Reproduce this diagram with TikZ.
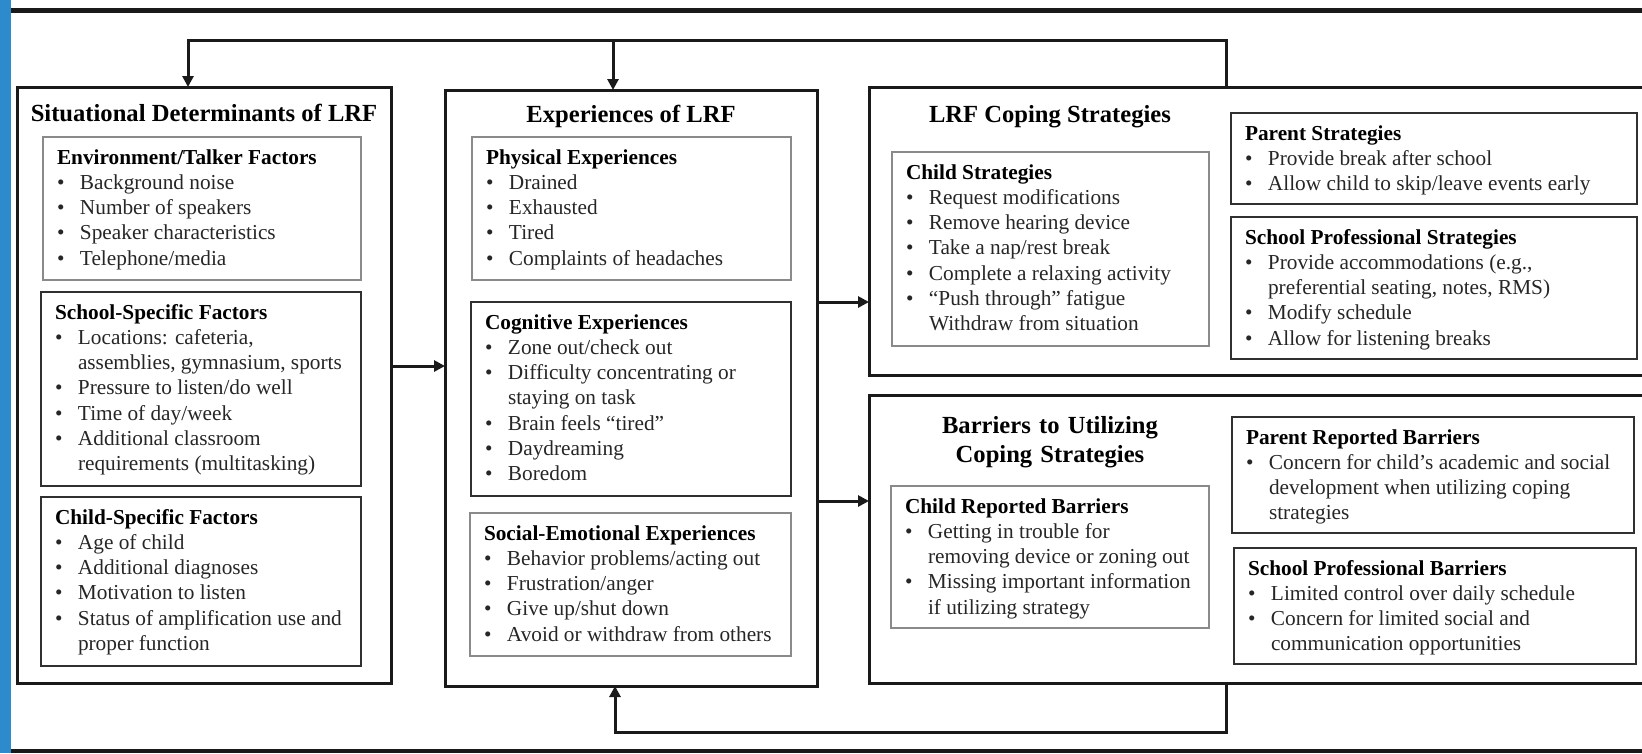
\documentclass[tikz,border=0pt]{standalone}
\usepackage{fontspec}
\setmainfont{Liberation Serif}
\usetikzlibrary{arrows.meta}
\definecolor{barblue}{HTML}{2D8BCB}
\definecolor{ink}{HTML}{1A1A1A}
\definecolor{lightedge}{HTML}{8A8A8A}
\definecolor{darkedge}{HTML}{303030}
\definecolor{bodytext}{HTML}{262626}
\newcommand\bul{\makebox[23pt][l]{•}}
\newcommand\cnt{\hspace*{23pt}}
\newcommand\hd[1]{\rule{0pt}{27pt}\textcolor{black}{\bfseries #1}}
\newcommand\boxtext[3]{\parbox[c][#1][t]{#2}{\raggedright\leftskip=14pt\rightskip=-60pt plus 1fil\relax\fontsize{21.3}{25.3}\selectfont #3}}
\newcommand\ibox[7]{\node[inbox, draw=#1] (#2) at (#3,#4) {\boxtext{#6pt}{#5pt}{#7}};}
\begin{document}
\begin{tikzpicture}[x=1pt,y=-1pt,
  outerbox/.style={draw=ink, line width=3pt, inner sep=0pt, outer sep=0pt, anchor=north west},
  inbox/.style={line width=1.6pt, inner sep=0pt, outer sep=0pt, anchor=north west, text=bodytext},
  boxtitle/.style={inner sep=0pt, font=\fontsize{24.6}{29}\selectfont\bfseries, text=black},
  conn/.style={draw=ink, line width=3pt},
  arr/.style={conn, -{Triangle[length=11pt,width=11pt]}}]
\useasboundingbox (0,0) rectangle (1642,753);
% frame decorations
\fill[barblue] (0,0) rectangle (11,753);
\fill[ink] (11,7.5) rectangle (1642,12.5);
\fill[ink] (11,749) rectangle (1642,753);

% outer boxes
\node[outerbox, minimum width=374pt, minimum height=596pt] (sit) at (17,87) {};
\node[outerbox, minimum width=372pt, minimum height=596pt] (exp) at (445,90) {};
\node[outerbox, minimum width=785pt, minimum height=288pt] (cope) at (869,87) {};
\node[outerbox, minimum width=785pt, minimum height=288pt] (barr) at (869,395) {};

% titles
\node[boxtitle, anchor=base] (sitT) at (204,121) {Situational Determinants of LRF};
\node[boxtitle, anchor=base] (expT) at (631,122) {Experiences of LRF};
\node[boxtitle, anchor=base] (copeT) at (1050,122) {LRF Coping Strategies};
\node[boxtitle, anchor=base, text width=320pt, align=center] (barrT) at (1050,433) {Barriers to Utilizing\\Coping Strategies};

% situational determinants
\ibox{lightedge}{env}{43}{137}{318}{143}{\hd{Environment/Talker Factors}\\
\bul Background noise\\
\bul Number of speakers\\
\bul Speaker characteristics\\
\bul Telephone/media}
\ibox{darkedge}{school}{41}{292}{320}{194}{\hd{School-Specific Factors}\\
\bul Locations: cafeteria,\\
\cnt assemblies, gymnasium, sports\\
\bul Pressure to listen/do well\\
\bul Time of day/week\\
\bul Additional classroom\\
\cnt requirements (multitasking)}
\ibox{darkedge}{childsp}{41}{497}{320}{169}{\hd{Child-Specific Factors}\\
\bul Age of child\\
\bul Additional diagnoses\\
\bul Motivation to listen\\
\bul Status of amplification use and\\
\cnt proper function}

% experiences
\ibox{lightedge}{phys}{472}{137}{319}{143}{\hd{Physical Experiences}\\
\bul Drained\\
\bul Exhausted\\
\bul Tired\\
\bul Complaints of headaches}
\ibox{darkedge}{cog}{471}{302}{320}{194}{\hd{Cognitive Experiences}\\
\bul Zone out/check out\\
\bul Difficulty concentrating or\\
\cnt staying on task\\
\bul Brain feels “tired”\\
\bul Daydreaming\\
\bul Boredom}
\ibox{lightedge}{social}{470}{513}{321}{143}{\hd{Social-Emotional Experiences}\\
\bul Behavior problems/acting out\\
\bul Frustration/anger\\
\bul Give up/shut down\\
\bul Avoid or withdraw from others}

% coping strategies
\ibox{lightedge}{childstr}{892}{152}{317}{194}{\hd{Child Strategies}\\
\bul Request modifications\\
\bul Remove hearing device\\
\bul Take a nap/rest break\\
\bul Complete a relaxing activity\\
\bul “Push through” fatigue\\
\cnt Withdraw from situation}
\ibox{darkedge}{parentstr}{1231}{113}{406}{91}{\hd{Parent Strategies}\\
\bul Provide break after school\\
\bul Allow child to skip/leave events early}
\ibox{darkedge}{schoolstr}{1231}{217}{406}{142}{\hd{School Professional Strategies}\\
\bul Provide accommodations (e.g.,\\
\cnt preferential seating, notes, RMS)\\
\bul Modify schedule\\
\bul Allow for listening breaks}

% barriers
\ibox{lightedge}{childbarr}{891}{486}{318}{142}{\hd{Child Reported Barriers}\\
\bul Getting in trouble for\\
\cnt removing device or zoning out\\
\bul Missing important information\\
\cnt if utilizing strategy}
\ibox{darkedge}{parentbarr}{1232}{417}{402}{116}{\hd{Parent Reported Barriers}\\
\bul Concern for child’s academic and social\\
\cnt development when utilizing coping\\
\cnt strategies}
\ibox{darkedge}{schoolbarr}{1234}{548}{402}{116}{\hd{School Professional Barriers}\\
\bul Limited control over daily schedule\\
\bul Concern for limited social and\\
\cnt communication opportunities}

% connectors
\draw[arr] (sit.east |- 0,366) -- (exp.west |- 0,366);
\draw[arr] (exp.east |- 0,302) -- (cope.west |- 0,302);
\draw[arr] (exp.east |- 0,501) -- (barr.west |- 0,501);
\coordinate (topL) at (188,40);
\coordinate (topM) at (613,40);
\draw[arr] (cope.north -| 1226,0) |- (topL) -- (sit.north -| topL);
\draw[arr] (topM) -- (exp.north -| topM);
\coordinate (botM) at (615,732);
\draw[arr] (barr.south -| 1226,0) |- (botM) -- (exp.south -| botM);
\end{tikzpicture}
\end{document}
